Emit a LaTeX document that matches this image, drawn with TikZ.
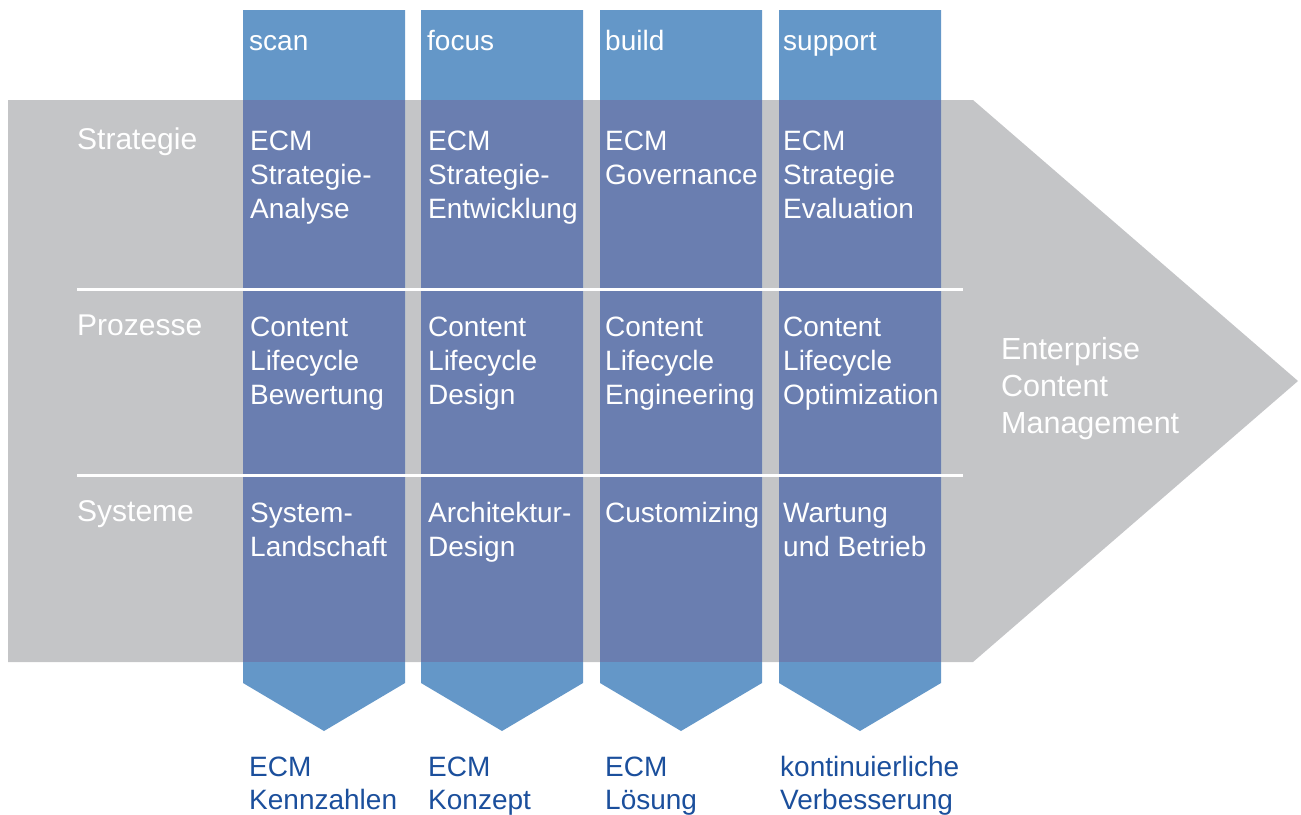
\documentclass[tikz,border=0pt]{standalone}
\usepackage{fontspec}
\setmainfont{Liberation Sans}
\definecolor{graybg}{HTML}{C4C5C7}
\definecolor{colblue}{HTML}{6497C8}
\definecolor{coldark}{HTML}{6A7EB0}
\definecolor{txtblue}{HTML}{1B4F9C}
\begin{document}
\begin{tikzpicture}[x=1pt,y=-1pt,
  cell/.style={font=\fontsize{28}{34}\selectfont, text=white, align=left, anchor=base west, inner sep=0pt},
  rowlabel/.style={font=\fontsize{30}{34}\selectfont, text=white, anchor=base west, inner sep=0pt},
  phase/.style={font=\fontsize{28}{34}\selectfont, text=white, anchor=base west, inner sep=0pt},
  result/.style={font=\fontsize{28}{33}\selectfont, text=txtblue, align=left, anchor=base west, inner sep=0pt},
  goal/.style={font=\fontsize{30.5}{37}\selectfont, text=white, align=left, anchor=base west, inner sep=0pt},
  sep/.style={white, line width=3pt}]
\useasboundingbox (0,0) rectangle (1301,814);
\fill[graybg] (8,100) -- (973,100) -- (1298,381) -- (973,662) -- (8,662) -- cycle;
\foreach \x in {243,421,600,779}{
  \fill[colblue] (\x,10) -- (\x+162,10) -- (\x+162,683) -- (\x+81,731) -- (\x,683) -- cycle;
  \fill[coldark] (\x,100) rectangle (\x+162,662);
}
\coordinate (l1a) at (77,289); \coordinate (l1b) at (963,289);
\coordinate (l2a) at (77,475); \coordinate (l2b) at (963,475);
\draw[sep] (l1a) -- (l1b);
\draw[sep] (l2a) -- (l2b);
% phases
\node[phase] (p1) at (249,50) {scan};
\node[phase] (p2) at (427,50) {focus};
\node[phase] (p3) at (605,50) {build};
\node[phase] (p4) at (783,50) {support};
% rows
\node[rowlabel] (r1) at (77,149) {Strategie};
\node[rowlabel] (r2) at (77,335) {Prozesse};
\node[rowlabel] (r3) at (77,521) {Systeme};
% cells (anchor = baseline of last line)
\node[cell] (c11) at (250,218) {ECM\\Strategie-\\Analyse};
\node[cell] (c12) at (428,218) {ECM\\Strategie-\\Entwicklung};
\node[cell] (c13) at (605,184) {ECM\\Governance};
\node[cell] (c14) at (783,218) {ECM\\Strategie\\Evaluation};
\node[cell] (c21) at (250,404) {Content\\Lifecycle\\Bewertung};
\node[cell] (c22) at (428,404) {Content\\Lifecycle\\Design};
\node[cell] (c23) at (605,404) {Content\\Lifecycle\\Engineering};
\node[cell] (c24) at (783,404) {Content\\Lifecycle\\Optimization};
\node[cell] (c31) at (250,556) {System-\\Landschaft};
\node[cell] (c32) at (428,556) {Architektur-\\Design};
\node[cell] (c33) at (605,522) {Customizing};
\node[cell] (c34) at (783,556) {Wartung\\und Betrieb};
% results
\node[result] (e1) at (249,809) {ECM\\Kennzahlen};
\node[result] (e2) at (428,809) {ECM\\Konzept};
\node[result] (e3) at (605,809) {ECM\\Lösung};
\node[result] (e4) at (780,809) {kontinuierliche\\Verbesserung};
% goal
\node[goal] (g) at (1001,433) {Enterprise\\Content\\Management};
\end{tikzpicture}
\end{document}
